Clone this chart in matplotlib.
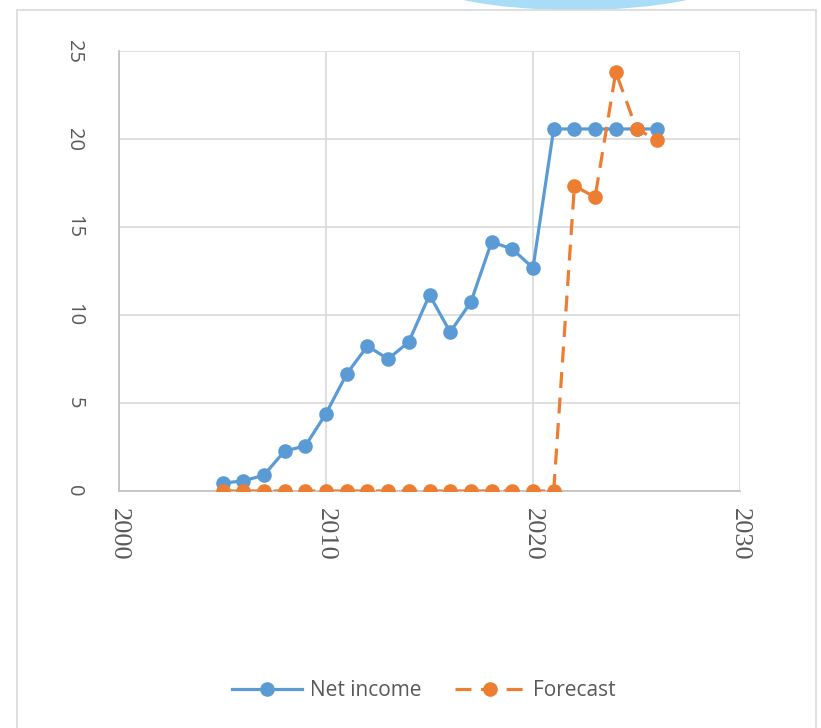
import matplotlib
matplotlib.use("Agg")
import matplotlib.pyplot as plt
from matplotlib.patches import Ellipse, Rectangle

years = list(range(2005, 2027))
net_income = [0.45, 0.57, 0.9, 2.27, 2.56, 4.4, 6.65, 8.24, 7.5, 8.47, 11.14, 9.03,
              10.74, 14.15, 13.75, 12.67, 20.57, 20.57, 20.57, 20.57, 20.57, 20.57]
forecast = [0] * 17 + [17.33, 16.7, 23.8, 20.57, 19.94]

x_ticks = [2000, 2010, 2020, 2030]
y_ticks = [0, 5, 10, 15, 20, 25]

blue = "#5b9bd5"
orange = "#ed7d31"
grid_c = "#d9d9d9"

fig = plt.figure(figsize=(8.21, 7.28), dpi=100)

# outer chart frame and the blue shape peeking in at the top
fig.patches.append(Rectangle((17 / 821, -0.01), 799 / 821, 1 - 10 / 728 + 0.01,
                             transform=fig.transFigure, fill=False,
                             edgecolor=grid_c, linewidth=1.2))
fig.patches.append(Ellipse((575 / 821, 1 + 20 / 728), 300 / 821, 60 / 728,
                           transform=fig.transFigure, facecolor="#a9dcf7",
                           edgecolor="none", zorder=0))

ax = fig.add_axes([119 / 821, 1 - 491 / 728, 621 / 821, 440 / 728])

ax.plot(years, net_income, color=blue, linewidth=2.3, marker="o",
        markersize=9.5, label="Net income", zorder=3)
ax.plot(years, forecast, color=orange, linewidth=2.3, linestyle=(0, (5, 3)),
        marker="o", markersize=9.5, label="Forecast", zorder=4)

ax.set_xlim(2000, 2030)
ax.set_ylim(0, 25)
ax.set_xticks(x_ticks, [str(t) for t in x_ticks])
ax.set_yticks(y_ticks, [str(t) for t in y_ticks])
ax.tick_params(axis="x", length=0, pad=12, labelrotation=-90, labelsize=19,
               labelcolor="#595959", labelfontfamily="Liberation Serif")
ax.tick_params(axis="y", length=0, pad=25, labelrotation=-90, labelsize=14.5,
               labelcolor="#595959", labelfontfamily="Open Sans")
for t in ax.get_xticklabels():
    t.set_verticalalignment("top")
for t in ax.get_yticklabels():
    t.set_verticalalignment("center")
ax.grid(True, color=grid_c, linewidth=1.2)
ax.set_axisbelow(True)
for s in ["top", "right"]:
    ax.spines[s].set_visible(False)
for s in ["left", "bottom"]:
    ax.spines[s].set_color("#bfbfbf")
    ax.spines[s].set_linewidth(1.2)

leg = fig.legend(loc="center", bbox_to_anchor=(0.5 + 13 / 821, 1 - 691 / 728), ncol=2,
                 frameon=False, handlelength=3.4, handletextpad=0.35,
                 columnspacing=1.6, prop={"family": "Open Sans", "size": 15})
for t in leg.get_texts():
    t.set_color("#595959")

fig.savefig("out.png", dpi=100)
